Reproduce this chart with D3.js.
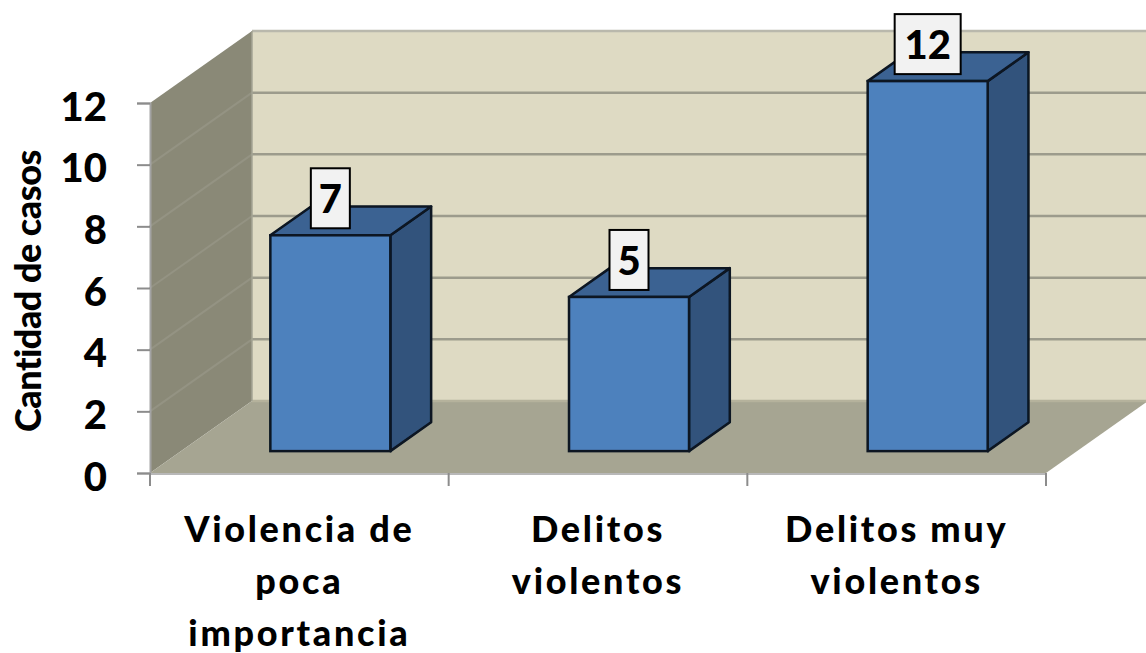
<!DOCTYPE html>
<html><head><meta charset="utf-8">
<script src="https://cdn.jsdelivr.net/npm/d3@7"></script>
<style>html,body{margin:0;padding:0;background:#fff;overflow:hidden}svg{display:block}text{font-family:Lato,sans-serif;font-weight:900;fill:#000}</style>
</head><body><svg id="c" width="1146" height="653"></svg>
<script>
const categories=["Violencia de poca importancia","Delitos violentos","Delitos muy violentos"];
const categoryLines=[["Violencia de","poca","importancia"],["Delitos","violentos"],["Delitos muy","violentos"]];
const values=[7,5,12];
const yTicks=[0,2,4,6,8,10,12];
const yTitle="Cantidad de casos";

const svg=d3.select("#c");
const defs=svg.append("defs");
defs.append("filter").attr("id","soft").append("feGaussianBlur").attr("stdDeviation",0.6);
const plotLeft=150,plotRight=1046,plotBottom=473,plotTop=103;
const wallDx=102,wallDy=-72;
const barInset=0.304;
const barDepth=0.4;
const y=d3.scaleLinear().domain([0,12]).range([plotBottom,plotTop]);
const x=d3.scaleBand().domain(categories).range([plotLeft,plotRight]);
const barW=120;
const path=p=>"M"+p.map(d=>d.join(",")).join("L")+"Z";
const g=svg.append("g").attr("filter","url(#soft)");

// walls
g.append("path").attr("d",path([[plotLeft,y(0)],[plotLeft,y(12)],[plotLeft+wallDx,y(12)+wallDy],[plotLeft+wallDx,y(0)+wallDy]])).attr("fill","#8a8977");
g.append("path").attr("d",path([[plotLeft,y(0)],[plotLeft+wallDx,y(0)+wallDy],[plotRight+wallDx,y(0)+wallDy],[plotRight,y(0)]])).attr("fill","#a6a592");
g.append("path").attr("d",path([[plotLeft+wallDx,y(12)+wallDy],[plotRight+wallDx,y(12)+wallDy],[plotRight+wallDx,y(0)+wallDy],[plotLeft+wallDx,y(0)+wallDy]])).attr("fill","#dedac3");

// gridlines
yTicks.forEach(t=>{
  if(t>0&&t<12) g.append("line").attr("x1",plotLeft).attr("y1",y(t)).attr("x2",plotLeft+wallDx).attr("y2",y(t)+wallDy).attr("stroke","#949383").attr("stroke-width",2);
  g.append("line").attr("x1",plotLeft+wallDx).attr("y1",y(t)+wallDy).attr("x2",plotRight+wallDx).attr("y2",y(t)+wallDy).attr("stroke",t===12?"#b9b8ac":(t===0?"#b5b29c":"#9c9b8c")).attr("stroke-width",2.5);
});
g.append("line").attr("x1",plotLeft+wallDx).attr("y1",y(12)+wallDy).attr("x2",plotLeft+wallDx).attr("y2",y(0)+wallDy).attr("stroke","#a5a495").attr("stroke-width",1.5);

// bars
const dx=wallDx*barInset,dy=wallDy*barInset;
const ddx=wallDx*barDepth,ddy=wallDy*barDepth;
const bars=g.selectAll("g.bar").data(values).join("g").attr("class","bar");
const bx=(d,i)=>x(categories[i])+x.bandwidth()/2-barW/2+dx;
bars.each(function(v,i){
  const s=d3.select(this),x0=bx(v,i),x1=x0+barW,yt=y(v)+dy,yb=y(0)+dy;
  s.append("path").attr("d",path([[x1,yb],[x1,yt],[x1+ddx,yt+ddy],[x1+ddx,yb+ddy]])).attr("fill","#31527b").attr("stroke","#0a1522").attr("stroke-width",2.5).attr("stroke-linejoin","round");
  s.append("path").attr("d",path([[x0,yt],[x0+ddx,yt+ddy],[x1+ddx,yt+ddy],[x1,yt]])).attr("fill","#3b6292").attr("stroke","#0a1522").attr("stroke-width",2.5).attr("stroke-linejoin","round");
  s.append("rect").attr("x",x0).attr("y",yt).attr("width",barW).attr("height",yb-yt).attr("fill","#4e81bd").attr("stroke","#0a1522").attr("stroke-width",2.5);
});

// axes lines & ticks
const yAxis=d3.axisLeft(y).tickValues(yTicks).tickSize(13).tickPadding(30);
const ga=svg.append("g").attr("transform",`translate(${plotLeft},0)`).call(yAxis);
ga.select(".domain").attr("stroke","#a3a3a3").attr("stroke-width",2);
ga.selectAll(".tick line").attr("stroke","#8c8c8c").attr("stroke-width",2);
ga.selectAll("text").style("font-size","40px").style("font-family","Lato,sans-serif").style("font-weight",900).attr("fill","#000").attr("dy","0.43em");

const xEdges=categories.map(c=>x(c)).concat([plotRight]);
const gx=svg.append("g");
gx.append("line").attr("x1",plotLeft).attr("x2",plotRight).attr("y1",plotBottom+1).attr("y2",plotBottom+1).attr("stroke","#b8b8b8").attr("stroke-width",2);
gx.selectAll("line.t").data(xEdges).join("line").attr("class","t").attr("x1",d=>d).attr("x2",d=>d).attr("y1",plotBottom).attr("y2",plotBottom+13).attr("stroke","#8c8c8c").attr("stroke-width",2);

// value labels
const labH=60;
const lab=svg.selectAll("g.lab").data(values).join("g").attr("class","lab");
lab.each(function(v,i){
  const s=d3.select(this),cx=bx(v,i)+barW/2;
  const w=String(v).length>1?66:39;
  const yb=y(v)+dy-7;
  s.append("rect").attr("x",cx-w/2).attr("y",yb-labH).attr("width",w).attr("height",labH).attr("fill","#f2f2f2").attr("stroke","#000").attr("stroke-width",2);
  s.append("text").attr("x",cx).attr("y",yb-labH/2).attr("dy","0.37em").attr("text-anchor","middle").style("font-size","40px").text(v);
});

// category labels
categories.forEach((c,i)=>{
  const t=svg.append("text").attr("text-anchor","middle").style("font-size","36px").style("letter-spacing","2.7px");
  categoryLines[i].forEach((l,j)=>t.append("tspan").attr("x",x(c)+x.bandwidth()/2).attr("y",542+j*52).text(l));
});

// axis title
svg.append("text").attr("transform","translate(41,291) rotate(-90)").attr("text-anchor","middle").style("font-size","36px").style("letter-spacing","-0.5px").text(yTitle);
</script></body></html>
